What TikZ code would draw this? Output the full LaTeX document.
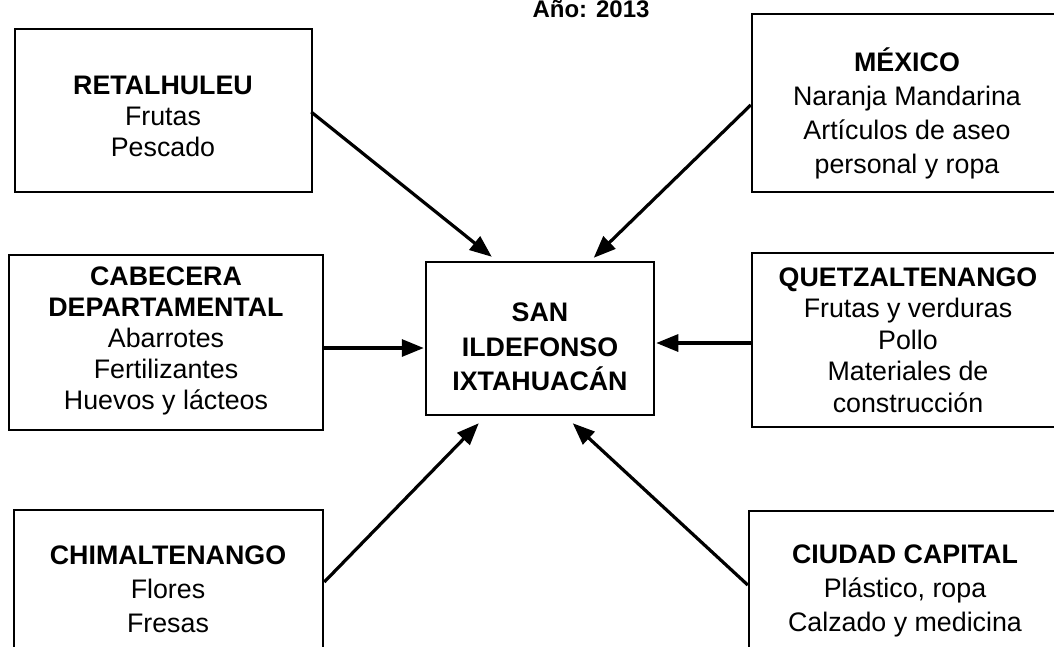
\documentclass[tikz,border=0pt]{standalone}
\usepackage{fontspec}
\setmainfont{Liberation Sans}
\usetikzlibrary{arrows.meta,calc}
\begin{document}
\begin{tikzpicture}[x=1pt,y=-1pt,
  box/.style={draw,line width=2.5pt,inner sep=0pt},
  txt/.style={align=center,inner sep=0pt,font=\fontsize{26.8}{31}\selectfont},
  txtw/.style={align=center,inner sep=0pt,font=\fontsize{26.8}{34}\selectfont},
  arr/.style={line width=3.2pt,-{Triangle[length=22pt,width=17pt]}}]
\useasboundingbox (0,0) rectangle (1054,646);
\clip (0,0) rectangle (1054,646);
\fill[white] (0,0) rectangle (1054,646);
% title
\node[anchor=base,inner sep=0pt,font=\fontsize{24}{28}\selectfont\bfseries] (title) at (591,17) {Año: 2013};
% boxes
\node[box,minimum width=297pt,minimum height=163pt] (ret) at (163.5,110.5) {};
\node[box,minimum width=310pt,minimum height=178pt] (mex) at (907,103) {};
\node[box,minimum width=314pt,minimum height=175pt] (cab) at (166,342.5) {};
\node[box,minimum width=228pt,minimum height=153pt] (cen) at (540,338.5) {};
\node[box,minimum width=312pt,minimum height=174pt] (quet) at (908,340) {};
\node[box,minimum width=309pt,minimum height=170pt] (chi) at (168.5,595) {};
\node[box,minimum width=312pt,minimum height=169pt] (ciu) at (905,595.5) {};
% texts
\node[txt] (rett) at (163,116) {\textbf{RETALHULEU}\\Frutas\\Pescado};
\node[txtw] (mext) at (907,113) {\textbf{MÉXICO}\\Naranja Mandarina\\Artículos de aseo\\personal y ropa};
\node[txt] (cabt) at (166,341) {\textbf{CABECERA}\\\textbf{DEPARTAMENTAL}\\Abarrotes\\Fertilizantes\\Huevos y lácteos};
\node[txtw,font=\fontsize{26.8}{34.5}\selectfont\bfseries] (cent) at (540,347) {SAN\\ILDEFONSO\\IXTAHUACÁN};
\node[txt,font=\fontsize{26.8}{31.5}\selectfont] (quett) at (908,340) {\textbf{QUETZALTENANGO}\\Frutas y verduras\\Pollo\\Materiales de\\construcción};
\node[txtw] (chit) at (168,589) {\textbf{CHIMALTENANGO}\\Flores\\Fresas};
\node[txtw] (ciut) at (905,591) {\textbf{CIUDAD CAPITAL}\\Plástico, ropa\\Calzado y medicina};
% arrows
\draw[arr] ($(ret.east)+(-2,1.5)$) -- ($(cen.north west)+(67,-4)$);
\draw[arr] ($(mex.west)+(0,2)$) -- ($(cen.north west)+(169,-3)$);
\draw[arr] ($(cab.east)+(0,5.5)$) -- ($(cen.west)+(-1,9.5)$);
\draw[arr] ($(quet.west)+(0,3)$) -- ($(cen.east)+(1,4.5)$);
\draw[arr] ($(chi.east)+(0,-13)$) -- ($(cen.south west)+(54,7)$);
\draw[arr] ($(ciu.west)+(0,-10.5)$) -- ($(cen.south west)+(148,7)$);
\end{tikzpicture}
\end{document}
